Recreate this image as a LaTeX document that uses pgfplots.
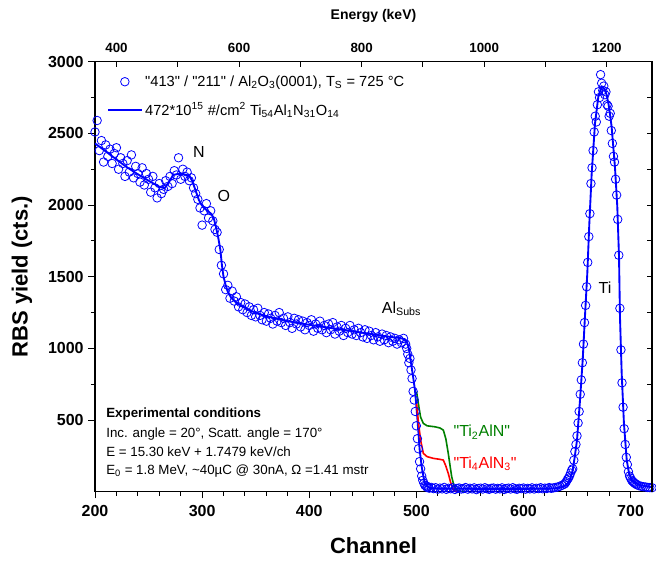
\documentclass[border=0pt]{standalone}
\usepackage{fontspec}
\setmainfont{Liberation Sans}
\usepackage{pgfplots}
\pgfplotsset{compat=1.18}
\usetikzlibrary{calc}
\definecolor{rbsBlue}{HTML}{0000FF}
\definecolor{rbsGreen}{HTML}{008000}
\definecolor{rbsRed}{HTML}{FF0000}
\newcommand{\q}{\textquotedbl}
\pgfplotsset{
    markleg/.style={legend image code/.code={%
        \draw[##1, mark repeat=2, mark phase=2] plot coordinates {(0cm,0cm) (0.44cm,0cm) (0.88cm,0cm)};}},
    lineleg/.style={legend image code/.code={%
        \draw[##1] (0cm,0cm) -- (0.88cm,0cm);}},
}

\begin{document}
\begin{tikzpicture}
\begin{axis}[
    name=main,
    width=417.75pt, height=322.5pt, scale only axis,
    xmin=200, xmax=720, ymin=0, ymax=3000,
    xtick={200,300,...,700}, minor x tick num=4,
    ytick={500,1000,...,3000}, minor y tick num=1,
    xtick pos=left, ytick pos=left, tick align=outside,
    major tick length=5pt, minor tick length=3pt,
    tick style={black, line width=0.7pt},
    axis line style={line width=1.1pt},
    /pgf/number format/1000 sep={},
    /pgf/number format/assume math mode=true,
    tick label style={font=\fontsize{12}{14}\selectfont\bfseries},
    xticklabel style={yshift=-2pt},
    xlabel={Channel}, ylabel={RBS yield (cts.)},
    label style={font=\fontsize{16.5}{19}\selectfont\bfseries},
    xlabel style={at={(axis description cs:0.5,-0.126)}, anchor=center},
    ylabel style={at={(axis description cs:-0.131,0.5)}, anchor=center},
    legend style={at={(axis description cs:0.0215,0.975)}, anchor=north west,
        draw=none, fill=none, inner sep=0pt, row sep=7pt,
        font=\fontsize{11}{13}\selectfont},
    legend cell align=left,
]
% measured spectrum
\addplot[only marks, mark=o, mark size=3.2pt, rbsBlue, mark options={line width=0.6pt}, markleg]
coordinates {
(200,2510) (202,2590) (204,2380) (206,2450) (208,2300) (210,2420) (212,2340) (214,2390)
(216,2290) (218,2360) (220,2400) (222,2250) (224,2330) (226,2290) (228,2200) (230,2310)
(232,2230) (234,2350) (236,2190) (238,2270) (240,2220) (242,2160) (244,2260) (246,2140)
(248,2220) (250,2180) (252,2090) (254,2200) (256,2120) (258,2050) (260,2150) (262,2080)
(264,2110) (266,2170) (268,2130) (270,2200) (272,2150) (274,2240) (276,2210) (278,2330)
(280,2180) (282,2250) (284,2200) (286,2230) (288,2170) (290,2190) (292,2120) (294,2080)
(296,2040) (298,1980) (300,1860) (302,1960) (304,2010) (306,1910) (308,1960) (310,1890)
(312,1830) (314,1810) (316,1690) (318,1580) (320,1520) (322,1410) (324,1440) (326,1350)
(328,1400) (330,1330) (332,1360) (334,1290) (336,1320) (338,1270) (340,1310) (342,1250)
(344,1290) (346,1230) (348,1270) (350,1220) (352,1280) (354,1230) (356,1200) (358,1250)
(360,1190) (362,1240) (364,1210) (366,1170) (368,1230) (370,1190) (372,1250) (374,1180)
(376,1210) (378,1160) (380,1220) (382,1180) (384,1140) (386,1210) (388,1170) (390,1200)
(392,1150) (394,1190) (396,1130) (398,1180) (400,1160) (402,1200) (404,1120) (406,1170)
(408,1140) (410,1190) (412,1130) (414,1160) (416,1110) (418,1170) (420,1130) (422,1180)
(424,1100) (426,1150) (428,1120) (430,1160) (432,1090) (434,1140) (436,1110) (438,1160)
(440,1100) (442,1130) (444,1090) (446,1140) (448,1110) (450,1080) (452,1130) (454,1070)
(456,1120) (458,1090) (460,1060) (462,1110) (464,1080) (466,1050) (468,1100) (470,1060)
(472,1090) (474,1040) (476,1080) (478,1050) (480,1070) (482,1030) (484,1060) (486,1040)
(488,1070) (490,1030) (491,1000) (492,960) (493,900) (494,930) (495,850) (496,790)
(497,700) (498,640) (499,560) (500,460) (501,370) (502,300) (503,210) (504,160)
(505,110) (506,80) (507,60) (508,45) (509,40) (510,30) (511,35) (512,25)
(514,30) (516,22) (518,28) (520,18) (522,25) (524,20) (526,30) (528,17)
(530,24) (532,21) (534,28) (536,16) (538,23) (540,26) (542,19) (544,22)
(546,29) (548,18) (550,24) (552,20) (554,27) (556,15) (558,22) (560,25)
(562,19) (564,28) (566,21) (568,17) (570,24) (572,26) (574,18) (576,23)
(578,20) (580,27) (582,16) (584,22) (586,25) (588,19) (590,28) (592,21)
(594,17) (596,24) (598,22) (600,26) (602,18) (604,23) (606,20) (608,27)
(610,19) (612,24) (614,22) (616,28) (618,21) (620,25) (622,23) (624,29)
(626,24) (628,27) (630,30) (632,33) (634,38) (636,45) (638,52) (639,60)
(640,70) (641,85) (642,95) (643,110) (644,130) (645,150) (646,160) (647,220)
(648,280) (649,330) (650,390) (651,480) (652,560) (653,680) (654,780) (655,900)
(656,1030) (657,1180) (658,1300) (659,1430) (660,1600) (661,1780) (662,1940) (663,2150)
(664,2260) (665,2380) (666,2510) (667,2620) (668,2580) (669,2700) (670,2790) (671,2750)
(672,2910) (673,2850) (674,2800) (675,2830) (676,2770) (677,2790) (678,2700) (679,2690)
(680,2620) (681,2640) (682,2520) (683,2430) (684,2340) (685,2300) (686,2180) (687,2070)
(688,1900) (689,1650) (690,1280) (691,990) (692,760) (693,590) (694,440) (695,330)
(696,240) (697,190) (698,140) (699,110) (700,95) (701,80) (702,72) (703,65)
(704,58) (705,54) (706,48) (708,42) (710,38) (712,35) (714,33) (716,30)
(718,29) (720,28)
};
\addlegendentry{\q413\q\ / \q211\q\ / Al\textsubscript{2}O\textsubscript{3}(0001), T\textsubscript{S} = 725 °C}

% simulation
\addplot[rbsBlue, line width=1.4pt, lineleg]
coordinates {
(200,2430) (210,2375) (220,2318) (229,2268) (240,2215) (250,2170) (260,2128) (265,2117)
(269,2160) (273,2210) (278,2218) (283,2215) (288,2205) (291,2165) (294,2100) (297,2035)
(300,1995) (303,1972) (306,1955) (309,1935) (311,1905) (313,1845) (315,1775) (317,1690)
(318.5,1580) (320,1500) (322,1440) (324,1395) (327,1355) (331,1325) (336,1300) (342,1275)
(351,1245) (365,1215) (380,1190) (391,1175) (413,1150) (444,1116) (475,1081) (485,1072)
(489,1065) (491,1050) (493,1000) (495,900) (497,800) (498.7,710) (500,600) (501.8,430)
(503,300) (505,174) (507,90) (508,60) (510,38) (513,26) (520,22) (560,20)
(600,20) (625,22) (632,26) (636,33) (640,48) (643,75) (646,151) (648,250)
(650,361) (652.8,640) (655.3,919) (657.4,1221) (659.6,1524) (661.5,1873) (663.7,2221) (666.8,2570)
(669.9,2756) (673,2826) (675.5,2810) (677.7,2768) (680,2680) (682.3,2547) (685.4,2268) (687.6,1989)
(689.2,1640) (690.1,1221) (691.7,826) (693.8,477) (696.4,221) (698.5,130) (701,82) (705,58)
(708.8,47) (714,38) (720,32)
};
\addlegendentry{472*10\textsuperscript{15} \#/cm\textsuperscript{2} Ti\textsubscript{54}Al\textsubscript{1}N\textsubscript{31}O\textsubscript{14}}

% alternative phases
\addplot[rbsGreen, line width=1.2pt, forget plot] coordinates {
(500.2,698) (502,610) (504,520) (506.5,477) (510,460) (517.4,453) (522,445) (525.2,430)
(527.5,370) (529.8,268) (531.5,180) (533,105) (535,45) (537.7,12) (541,3) (548.5,0)
};
\addplot[rbsRed, line width=1.2pt, forget plot] coordinates {
(500.2,617) (502,480) (504,360) (506.5,268) (510,245) (515.8,233) (522,226) (525.2,221)
(527.5,180) (529.8,128) (532,65) (534.6,12) (537,2) (540,0)
};

\node at (axis cs:297,2370) {\fontsize{12}{14}\selectfont N};
\node at (axis cs:320.4,2062) {\fontsize{12}{14}\selectfont O};
\node[anchor=base west, inner sep=0pt] at (axis cs:467.6,1245) {\fontsize{12}{14}\selectfont Al\textsubscript{Subs}};
\node[anchor=base west, inner sep=0pt] at (axis cs:669.9,1384) {\fontsize{12}{14}\selectfont Ti};
\node[anchor=base west, inner sep=0pt, text=rbsGreen] at (axis cs:534.5,384) {\fontsize{12}{14}\selectfont \q Ti\textsubscript{2}AlN\q};
\node[anchor=base west, inner sep=0pt, text=rbsRed] at (axis cs:534.5,163) {\fontsize{12}{14}\selectfont \q Ti\textsubscript{4}AlN\textsubscript{3}\q};

\node[anchor=base west, inner sep=0pt] at (axis cs:210.3,519) {\fontsize{10}{12}\selectfont\bfseries Experimental conditions};
\node[anchor=base west, inner sep=0pt] at (axis cs:210.3,380) {\fontsize{10}{12}\selectfont Inc. angle = 20°, Scatt. angle = 170°};
\node[anchor=base west, inner sep=0pt] at (axis cs:210.3,247) {\fontsize{10}{12}\selectfont E = 15.30 keV + 1.7479 keV/ch};
\node[anchor=base west, inner sep=0pt] at (axis cs:210.3,117) {\fontsize{10}{12}\selectfont E\textsubscript{0} = 1.8 MeV, \textasciitilde40µC @ 30nA, Ω =1.41 mstr};
\end{axis}

% energy scale: E = 15.30 keV + 1.7479 keV/ch
\begin{axis}[
    width=417.75pt, height=322.5pt, scale only axis,
    xmin=364.88, xmax=1273.79, ymin=0, ymax=3000,
    axis x line*=top, axis y line*=right,
    axis line style={line width=1.1pt, -},
    xtick={400,600,...,1200}, minor x tick num=1,
    ytick={500,1000,...,3000}, minor y tick num=1, yticklabels={},
    tick align=inside, major tick length=4pt, minor tick length=4pt,
    tick style={black, line width=0.7pt},
    /pgf/number format/1000 sep={},
    /pgf/number format/assume math mode=true,
    xticklabel style={font=\fontsize{10}{12}\selectfont\bfseries, yshift=3pt},
    xlabel={Energy (keV)},
    xlabel style={at={(axis description cs:0.5,1.106)}, anchor=center,
        font=\fontsize{10.5}{12.5}\selectfont\bfseries},
]
\addplot[draw=none] coordinates {(400,0)};
\end{axis}

\pgfresetboundingbox
\useasboundingbox ($(main.south west)+(-71.25pt,-52pt)$) rectangle ($(main.north east)+(3pt,46.3pt)$);
\end{tikzpicture}
\end{document}
